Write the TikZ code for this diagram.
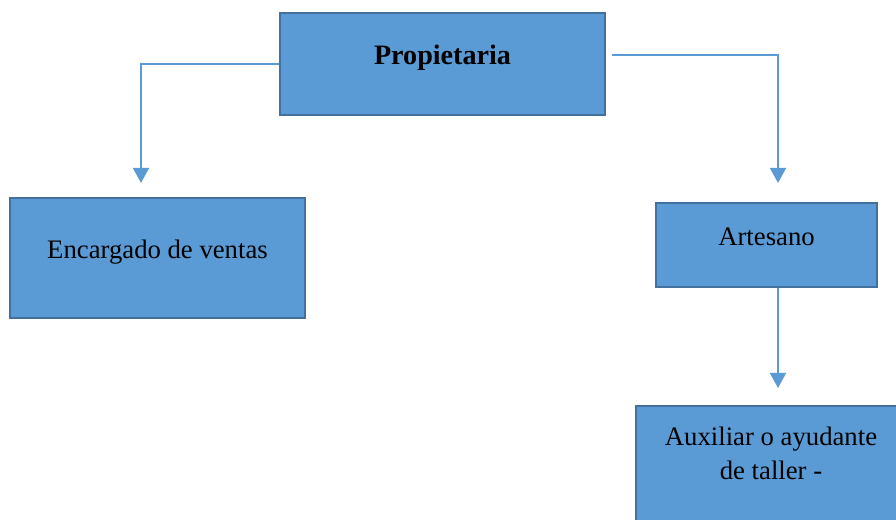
\documentclass[tikz,border=0pt]{standalone}
\usepackage{fontspec}
\setmainfont{Liberation Serif}
\usetikzlibrary{arrows.meta, positioning}
\definecolor{boxblue}{RGB}{91,155,213}
\definecolor{boxborder}{RGB}{65,113,156}
\definecolor{linkblue}{RGB}{91,155,213}

\begin{document}
\begin{tikzpicture}[x=0.025cm, y=-0.025cm,
    orgbox/.style={draw=boxborder, fill=boxblue, line width=1.6pt,
        text height=0.45cm, text depth=0.45cm, font=\fontsize{19}{24}\selectfont},
    link/.style={draw=linkblue, line width=1.6pt, -{Triangle[width=0.4cm, length=0.38cm]}}]

    \clip (0,0) rectangle (896,520);

    % Boxes
    \node[orgbox, minimum width=8.125cm, minimum height=2.55cm,
        font=\fontsize{20}{24}\selectfont\bfseries] (prop) at (442.5,64) {Propietaria};
    \node[orgbox, minimum width=7.375cm, minimum height=3cm] (ventas) at (157.5,258) {Encargado de ventas};
    \node[orgbox, minimum width=5.525cm, minimum height=2.1cm] (arte) at (766.5,245) {Artesano};
    \node[orgbox, align=center, anchor=north, minimum width=6.75cm,
        text height=1.72cm, text depth=1.6cm] (aux) at (771,405) {Auxiliar o ayudante\\de taller -};

    % Arrow ends
    \coordinate (ventastip) at (141,183);
    \coordinate (artetip) at (778,183);
    \coordinate (auxtip) at (778,388);

    % Connectors
    \draw[link] (prop.west) -| (ventastip);
    \draw[link] ([xshift=0.15cm, yshift=0.225cm]prop.east) -| (artetip);
    \draw[link] (arte.south -| auxtip) -- (auxtip);
\end{tikzpicture}
\end{document}
